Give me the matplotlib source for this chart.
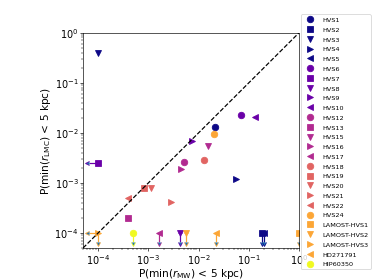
import numpy as np
import matplotlib
matplotlib.use("Agg")
import matplotlib.pyplot as plt

names = ["HVS1", "HVS2", "HVS3", "HVS4", "HVS5", "HVS6", "HVS7", "HVS8", "HVS9",
         "HVS10", "HVS12", "HVS13", "HVS15", "HVS16", "HVS17", "HVS18", "HVS19",
         "HVS20", "HVS21", "HVS22", "HVS24", "LAMOST-HVS1", "LAMOST-HVS2",
         "LAMOST-HVS3", "HD271791", "HIP60350"]
p_mw = [0.021, 0.18, 1e-4, 0.055, 0.2, 0.068, 1e-4, 0.0042, 0.0075,
        0.13, 0.0052, 0.0004, 0.015, 0.0045, 0.0016, 0.013, 0.0008,
        0.0011, 0.0028, 0.0004, 0.02, 1.0, 0.0055,
        1e-4, 0.022, 0.0005]
p_lmc = [0.013, 1e-4, 0.4, 0.0012, 1e-4, 0.023, 0.0025, 1e-4, 0.007,
         0.021, 0.0026, 0.0002, 0.0055, 0.0019, 1e-4, 0.0028, 0.0008,
         0.0008, 0.00042, 0.0005, 0.0095, 1e-4, 1e-4,
         1e-4, 1e-4, 1e-4]
# upper limits (no samples passing within 5 kpc)
x_upper = [False, False, False, False, False, False, True, False, False,
           False, False, False, False, False, False, False, False,
           False, False, False, False, False, False,
           True, False, False]
y_upper = [False, True, False, False, True, False, False, True, False,
           False, False, False, False, False, True, False, False,
           False, False, False, False, True, True,
           True, True, True]

markers = ["o", "s", "v", ">", "<"]


def main():
    fig = plt.figure(figsize=(6.4, 4.8), dpi=58.44)
    ax = fig.add_axes([0.222, 0.114, 0.578, 0.768])

    for i, name in enumerate(names):
        c = plt.cm.plasma(0.2 * (i // 5))
        m = markers[i % 5]
        x, y = p_mw[i], p_lmc[i]
        if y_upper[i]:
            ax.errorbar(x, y, yerr=[[0.35 * y], [0]], uplims=True, fmt="none",
                        ecolor=c, capsize=3, elinewidth=1.5)
        if x_upper[i]:
            ax.errorbar(x, y, xerr=[[0.35 * x], [0]], xuplims=True, fmt="none",
                        ecolor=c, capsize=3, elinewidth=1.5)
        ax.plot(x, y, marker=m, ls="none", color=c, ms=8, label=name)

    lim = [5e-5, 1]
    ax.plot(lim, lim, "k--", lw=1.5)
    ax.set_xscale("log")
    ax.set_yscale("log")
    ax.set_xlim(lim)
    ax.set_ylim(lim)
    ax.tick_params(labelsize=12, pad=2)
    ax.set_xlabel(r"P(min($r_{\rm MW}$) < 5 kpc)", fontsize=13, labelpad=0)
    ax.set_ylabel(r"P(min($r_{\rm LMC}$) < 5 kpc)", fontsize=13, labelpad=2)
    ax.legend(loc="upper left", bbox_to_anchor=(1.009, 1.084), borderaxespad=0,
              fontsize=8, labelspacing=0.65, handletextpad=0.8)
    fig.savefig("out.png", dpi=58.44)


if __name__ == "__main__":
    main()
